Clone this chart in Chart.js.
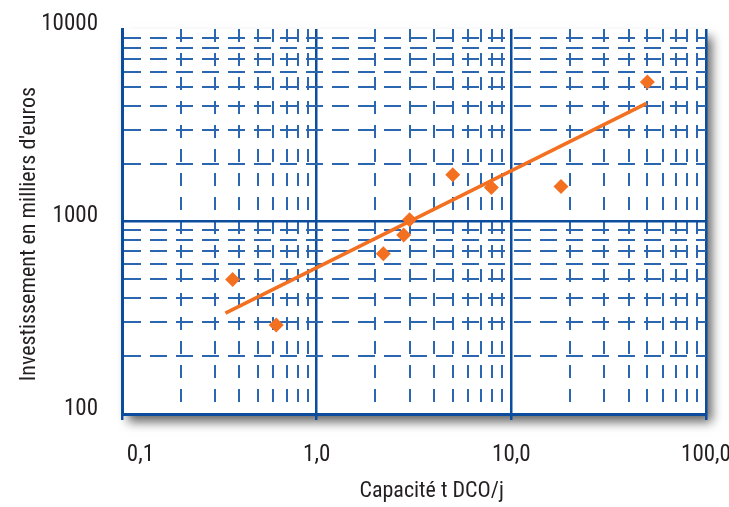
<!DOCTYPE html>
<html>
<head>
<meta charset="utf-8">
<script src="https://cdn.jsdelivr.net/npm/chart.js@4.4.1/dist/chart.umd.min.js"></script>
<style>
  html, body { margin: 0; padding: 0; background: #fff; }
  #wrap { width: 729px; height: 507px; }
</style>
</head>
<body>
<div id="wrap"><canvas id="chart" width="729" height="507"></canvas></div>
<script>
// Plant capacity (t DCO/j) and investment (k EUR)
const capacity = [0.37, 0.62, 2.2, 2.8, 3.0, 5.0, 7.9, 18, 50];
const investment = [500, 290, 680, 850, 1020, 1750, 1500, 1520, 5300];

// Trend line end points
const trendCapacity = [0.34, 49.5];
const trendInvestment = [334, 4110];

// Grid values (log decades + minor steps) and labelled ticks
const xGrid = [0.1, 0.2, 0.3, 0.4, 0.5, 0.6, 0.7, 0.8, 0.9,
  1, 2, 3, 4, 5, 6, 7, 8, 9, 10, 20, 30, 40, 50, 60, 70, 80, 90, 100];
const yGrid = [100, 200, 300, 400, 500, 600, 700, 800, 900,
  1000, 2000, 3000, 4000, 5000, 6000, 7000, 8000, 9000, 10000];
const xMajor = [0.1, 1, 10, 100];
const NBSP = "\u00a0";
// first label sits a little right of its tick in the original
const xLabels = [NBSP.repeat(7) + "0,1", "1,0", "10,0", "100,0"];
const yMajor = [100, 1000, 10000];
const yLabels = ["100", "1000", "10000"];

const BLUE = "#0b4c9c";
const BLUE_MINOR = "#2b67b1";
const ORANGE = "#f37021";
const TEXT = "#231f20";
const FONT = "'Roboto Condensed', 'DejaVu Sans Condensed', sans-serif";

const isMajor = (list, v) => list.some((m) => Math.abs(m - v) < 1e-9);

const points = capacity.map((x, i) => ({ x: x, y: investment[i] }));
const trend = trendCapacity.map((x, i) => ({ x: x, y: trendInvestment[i] }));

// Soft shadow behind the plot frame
const frameShadow = {
  id: "frameShadow",
  beforeDraw(chart) {
    const { ctx, chartArea: a } = chart;
    ctx.save();
    ctx.shadowColor = "rgba(0,0,0,0.6)";
    ctx.shadowBlur = 10;
    ctx.shadowOffsetX = 6;
    ctx.shadowOffsetY = 8;
    ctx.fillStyle = "#fff";
    ctx.fillRect(a.left, a.top, a.right - a.left, a.bottom - a.top);
    ctx.restore();
  },
};

new Chart(document.getElementById("chart"), {
  type: "scatter",
  data: {
    datasets: [
      {
        label: "Installations",
        data: points,
        pointStyle: "rectRot",
        pointRadius: 7.5,
        backgroundColor: ORANGE,
        borderColor: ORANGE,
        borderWidth: 0,
        order: 1,
      },
      {
        label: "Tendance",
        data: trend,
        showLine: true,
        pointRadius: 0,
        borderColor: ORANGE,
        borderWidth: 3.5,
        order: 2,
      },
    ],
  },
  options: {
    responsive: false,
    animation: false,
    devicePixelRatio: 1,
    layout: { padding: { top: 29, right: 0, left: 0, bottom: 0 } },
    plugins: {
      legend: { display: false },
      tooltip: { enabled: false },
    },
    scales: {
      x: {
        type: "logarithmic",
        min: 0.1,
        max: 100,
        afterBuildTicks: (scale) => {
          scale.ticks = xGrid.map((v) => ({ value: v, major: isMajor(xMajor, v) }));
        },
        afterFit: (scale) => {
          scale.height = 93;
          scale.paddingRight = 23;
          scale.paddingLeft = 0;
        },
        ticks: {
          autoSkip: false,
          maxRotation: 0,
          padding: 21,
          color: TEXT,
          font: { family: FONT, size: 23 },
          callback: (v) => {
            const i = xMajor.findIndex((m) => Math.abs(m - v) < 1e-9);
            return i >= 0 ? xLabels[i] : "";
          },
        },
        grid: {
          color: (c) => (c.tick && isMajor(xMajor, c.tick.value) ? BLUE : BLUE_MINOR),
          lineWidth: (c) => (c.tick && isMajor(xMajor, c.tick.value) ? 2.5 : 2),
          tickLength: 6,
          tickColor: (c) => (c.tick && isMajor(xMajor, c.tick.value) ? BLUE : "rgba(0,0,0,0)"),
          tickWidth: 2.5,
          tickBorderDash: [],
        },
        border: {
          display: true,
          color: BLUE,
          width: 3,
          dash: (c) => (c.tick && !isMajor(xMajor, c.tick.value) ? [13, 11] : []),
        },
        title: {
          display: true,
          // leading spaces nudge the title right, as in the original layout
          text: NBSP.repeat(7) + "Capacité t DCO/j",
          color: TEXT,
          font: { family: FONT, size: 22 },
          padding: { top: 0, bottom: 2 },
        },
      },
      y: {
        type: "logarithmic",
        min: 100,
        max: 10000,
        afterBuildTicks: (scale) => {
          scale.ticks = yGrid.map((v) => ({ value: v, major: isMajor(yMajor, v) }));
        },
        afterFit: (scale) => {
          scale.width = 122;
          scale.paddingTop = 0;
          scale.paddingBottom = 0;
        },
        ticks: {
          autoSkip: false,
          padding: 24,
          labelOffset: -5,
          color: TEXT,
          font: { family: FONT, size: 23 },
          callback: (v) => {
            const i = yMajor.findIndex((m) => Math.abs(m - v) < 1e-9);
            return i >= 0 ? yLabels[i] : "";
          },
        },
        grid: {
          drawTicks: false,
          color: (c) => {
            if (!c.tick) return BLUE;
            if (c.tick.value === 10000) return "rgba(0,0,0,0)";
            return isMajor(yMajor, c.tick.value) ? BLUE : BLUE_MINOR;
          },
          lineWidth: (c) => (c.tick && isMajor(yMajor, c.tick.value) ? 2.5 : 2),
        },
        border: {
          display: true,
          color: BLUE,
          width: 3,
          dash: (c) => (c.tick && !isMajor(yMajor, c.tick.value) ? [17, 9] : []),
        },
        title: {
          display: true,
          // trailing spaces nudge the rotated title downwards
          text: "Investissement en milliers d'euros" + NBSP.repeat(5),
          color: TEXT,
          font: { family: FONT, size: 22 },
          padding: { top: 16, bottom: 0 },
        },
      },
    },
  },
  plugins: [frameShadow],
});
</script>
</body>
</html>
